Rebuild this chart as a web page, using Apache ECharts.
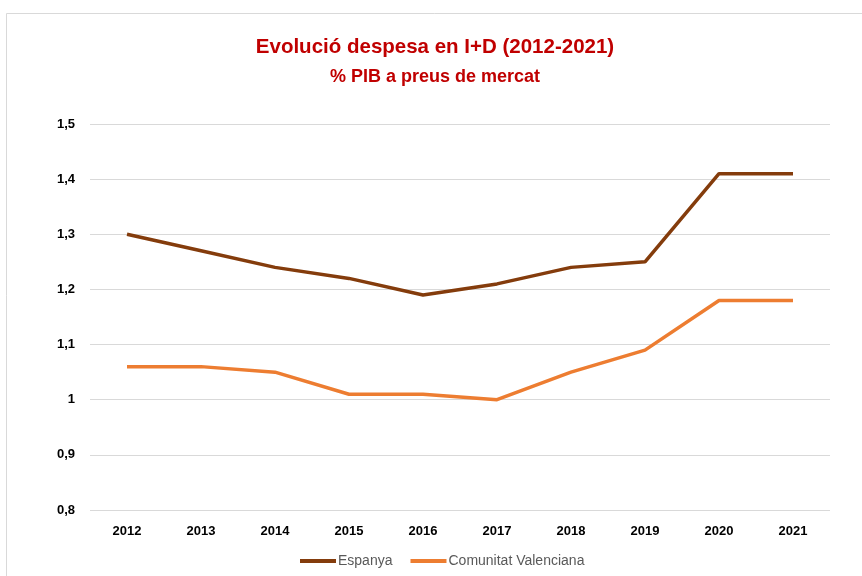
<!DOCTYPE html>
<html>
<head>
<meta charset="utf-8">
<script src="https://cdn.jsdelivr.net/npm/echarts@6/dist/echarts.min.js"></script>
<style>
  html, body { margin: 0; padding: 0; background: #fff; }
  #chart { width: 862px; height: 576px; }
</style>
</head>
<body>
<div id="chart"></div>
<script>
// dades llegides del gràfic
var years = ["2012", "2013", "2014", "2015", "2016", "2017", "2018", "2019", "2020", "2021"];
var espanya = [1.30, 1.27, 1.24, 1.22, 1.19, 1.21, 1.24, 1.25, 1.41, 1.41];
var comunitatValenciana = [1.06, 1.06, 1.05, 1.01, 1.01, 1.00, 1.05, 1.09, 1.18, 1.18];

var chart = echarts.init(document.getElementById("chart"));
var font = "'Liberation Sans', Arial, sans-serif";

var option = {
  animation: false,
  backgroundColor: "#fff",
  graphic: [
    {
      type: "rect",
      shape: { x: 6.5, y: 13.5, width: 900, height: 600 },
      style: { fill: "none", stroke: "#d9d9d9", lineWidth: 1 },
      silent: true
    }
  ],
  title: {
    text: "Evolució despesa en I+D (2012-2021)",
    subtext: "% PIB a preus de mercat",
    left: 430,
    textAlign: "center",
    top: 32,
    itemGap: 10,
    textStyle: { color: "#c00000", fontSize: 20.5, fontWeight: "bold", fontFamily: font },
    subtextStyle: { color: "#c00000", fontSize: 18, fontWeight: "bold", fontFamily: font }
  },
  legend: {
    bottom: 3,
    left: 295,
    itemWidth: 36,
    itemHeight: 4,
    itemGap: 18,
    icon: "rect",
    textStyle: { color: "#595959", fontSize: 14, fontFamily: font, padding: [0, 0, 0, -3] },
    data: ["Espanya", "Comunitat Valenciana"]
  },
  grid: { left: 90, right: 32, top: 124, bottom: 66, containLabel: false },
  xAxis: {
    type: "category",
    data: years,
    boundaryGap: true,
    axisLine: { show: false },
    axisTick: { show: false },
    axisLabel: { color: "#000", fontSize: 13, fontWeight: "bold", fontFamily: font, margin: 15 }
  },
  yAxis: {
    type: "value",
    min: 0.8,
    max: 1.5,
    interval: 0.1,
    axisLine: { show: false },
    axisTick: { show: false },
    axisLabel: {
      color: "#000",
      fontSize: 13,
      fontWeight: "bold",
      fontFamily: font,
      margin: 15,
      formatter: function (v) {
        return String(Number(v.toFixed(1))).replace(".", ",");
      }
    },
    splitLine: { lineStyle: { color: "#d9d9d9", width: 1 } }
  },
  series: [
    {
      name: "Espanya",
      type: "line",
      data: espanya,
      showSymbol: false,
      symbol: "none",
      color: "#843c0c",
      lineStyle: { color: "#843c0c", width: 3.5 }
    },
    {
      name: "Comunitat Valenciana",
      type: "line",
      data: comunitatValenciana,
      showSymbol: false,
      symbol: "none",
      color: "#ed7d31",
      lineStyle: { color: "#ed7d31", width: 3.5 }
    }
  ]
};
chart.setOption(option);
</script>
</body>
</html>
